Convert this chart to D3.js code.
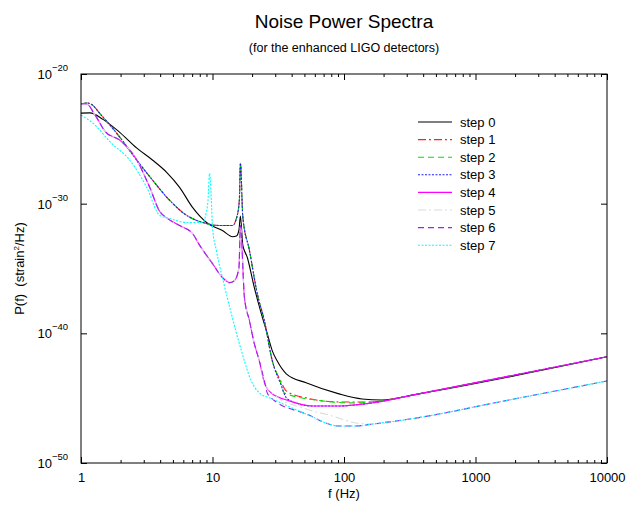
<!DOCTYPE html>
<html><head><meta charset="utf-8">
<script src="https://cdn.jsdelivr.net/npm/d3@7"></script>
<style>body{margin:0;background:#fff}svg{display:block;font-family:"Liberation Sans",Arial,sans-serif}</style>
</head><body>
<svg id="c" width="626" height="506"></svg>
<script>
// Data: each point is [frequency (Hz), log10 P(f)]
const step0 = [[1,-23.02],[1.17,-23.0],[1.47,-23.5],[1.97,-24.5],[2.66,-25.72],[3.51,-26.65],[4.48,-27.58],[5.62,-28.74],[7.05,-30.29],[9.0,-31.45],[11.9,-32.07],[14.2,-32.55],[15.2,-32.5],[15.9,-32.0],[16.3,-30.95],[17.0,-33.2],[18.4,-34.15],[20.8,-36.47],[23.5,-38.48],[26.1,-40.03],[28.5,-41.35],[31,-42.12],[36.4,-43.12],[51.5,-43.82],[91.6,-44.67],[137,-45.06],[194,-45.14],[370,-44.67],[10000,-41.81]];
const step1 = [[1,-22.3],[1.13,-22.24],[1.47,-23.33],[1.97,-24.87],[2.66,-26.65],[3.51,-28.2],[4.72,-29.74],[6.35,-30.9],[8.4,-31.45],[11.3,-31.68],[14.2,-31.68],[15.2,-31.14],[16.0,-29.74],[16.3,-26.88],[17.0,-31.0],[19.1,-33.61],[21.9,-36.94],[24.8,-39.03],[28.5,-42.12],[33,-43.67],[36.4,-44.44],[51.5,-44.98],[91.6,-45.29],[163,-45.29],[250,-45.0],[370,-44.67],[10000,-41.81]];
const step2 = [[1,-22.3],[1.13,-22.24],[1.47,-23.33],[1.97,-24.87],[2.66,-26.65],[3.51,-28.2],[4.72,-29.74],[6.35,-30.9],[8.4,-31.45],[11.3,-31.68],[14.2,-31.68],[15.2,-31.14],[16.0,-29.74],[16.3,-26.88],[17.0,-31.0],[19.1,-33.61],[21.9,-36.94],[24.8,-39.03],[28.5,-42.12],[33,-43.8],[35,-44.59],[68,-45.21],[123,-45.37],[219,-45.12],[370,-44.67],[10000,-41.81]];
const step3 = [[1,-22.3],[1.13,-22.24],[1.47,-23.33],[1.97,-24.87],[2.66,-26.65],[3.51,-28.2],[4.72,-29.74],[6.35,-30.9],[8.4,-31.45],[11.3,-31.68],[14.2,-31.68],[15.2,-31.14],[16.0,-29.74],[16.3,-26.88],[17.0,-31.0],[19.1,-33.61],[21.9,-36.94],[24.8,-39.03],[28.5,-42.12],[33,-43.9],[37,-45.06],[57.2,-45.6],[91.6,-45.6],[163,-45.37],[370,-44.67],[10000,-41.81]];
const step4 = [[1,-22.3],[1.1,-22.3],[1.28,-23.17],[1.54,-24.48],[1.97,-25.1],[2.66,-26.65],[3.33,-28.74],[3.97,-30.6],[4.48,-31.1],[5.62,-31.68],[7.05,-32.3],[7.97,-33.2],[10,-34.62],[11.9,-35.7],[13.5,-36.09],[14.7,-35.93],[15.9,-34.93],[16.3,-31.68],[17.5,-37.25],[19.1,-39.03],[20.8,-40.8],[22.7,-42.12],[24.8,-43.8],[28,-44.6],[38.3,-45.21],[57.2,-45.6],[91.6,-45.6],[163,-45.37],[370,-44.67],[10000,-41.81]];
const step5 = [[1,-22.3],[1.1,-22.3],[1.28,-23.17],[1.54,-24.48],[1.97,-25.1],[2.66,-26.65],[3.33,-28.74],[3.97,-30.6],[4.48,-31.1],[5.62,-31.68],[7.05,-32.3],[7.97,-33.2],[10,-34.62],[11.9,-35.7],[13.5,-36.09],[14.7,-35.93],[15.9,-34.93],[16.3,-31.68],[17.5,-37.25],[19.1,-39.03],[20.8,-40.8],[22.7,-42.12],[24.8,-43.8],[30,-44.8],[51.5,-45.83],[81,-46.37],[123,-46.91],[163,-47.0],[370,-46.5],[1515,-45.29],[10000,-43.67]];
const step6 = [[1,-22.3],[1.1,-22.3],[1.28,-23.17],[1.54,-24.48],[1.97,-25.1],[2.66,-26.65],[3.33,-28.74],[3.97,-30.6],[4.48,-31.1],[5.62,-31.68],[7.05,-32.3],[7.97,-33.2],[10,-34.62],[11.9,-35.7],[13.5,-36.09],[14.7,-35.93],[15.9,-34.93],[16.3,-31.68],[17.5,-37.25],[19.1,-39.03],[20.8,-40.8],[22.7,-42.12],[24.8,-43.67],[26.1,-44.6],[28.5,-45.06],[51.5,-46.22],[91.6,-47.15],[123,-47.15],[163,-47.0],[370,-46.5],[1515,-45.29],[10000,-43.67]];
const step7 = [[1,-23.17],[1.23,-23.79],[1.69,-25.3],[2.35,-26.65],[3.16,-28.74],[3.97,-30.9],[4.72,-31.14],[6.35,-31.45],[8.4,-31.45],[9.2,-29.98],[9.5,-27.66],[9.8,-29.74],[10,-31.83],[10.7,-33.61],[12.3,-36.3],[13.9,-38.48],[16.6,-41.35],[19.7,-43.67],[22.7,-44.59],[28.5,-45.06],[51.5,-46.22],[91.6,-47.15],[123,-47.15],[163,-47.0],[370,-46.5],[1515,-45.29],[10000,-43.67]];

const seriesNames = ["step 0","step 1","step 2","step 3","step 4","step 5","step 6","step 7"];
const seriesData = [step0, step1, step2, step3, step4, step5, step6, step7];
const xTickValues = [1, 10, 100, 1000, 10000];
const xTickLabels = ["1", "10", "100", "1000", "10000"];
const yTickExponents = [-20, -30, -40, -50];
const titleText = "Noise Power Spectra";
const subtitleText = "(for the enhanced LIGO detectors)";

const styles = [
  {color:"#000000", dash:null},
  {color:"#ff2020", dash:"8,3,2,3"},
  {color:"#00e000", dash:"6,4"},
  {color:"#2020ff", dash:"2,1.5"},
  {color:"#ff00ff", dash:null},
  {color:"#dcdcdc", dash:"8,3,2,3"},
  {color:"#a020f0", dash:"6,4"},
  {color:"#00ffff", dash:"2,1.5"}
];

const L = 81, R = 607, T = 74, B = 463;
const svg = d3.select("#c");
const x = d3.scaleLog().domain([1, 10000]).range([L, R]);
const y = d3.scaleLog().domain([1e-50, 1e-20]).range([B, T]);

// title
svg.append("text").attr("x", (L+R)/2).attr("y", 28).attr("text-anchor","middle")
  .attr("font-size", 19).text(titleText);
svg.append("text").attr("x", (L+R)/2).attr("y", 52).attr("text-anchor","middle")
  .attr("font-size", 12.5).text(subtitleText);

// curves
const clip = svg.append("clipPath").attr("id","pc").append("rect")
  .attr("x", L).attr("y", T).attr("width", R-L).attr("height", B-T);
const line = d3.line().x(d => x(d[0])).y(d => y(Math.pow(10, d[1]))).curve(d3.curveMonotoneX);
const g = svg.append("g").attr("clip-path","url(#pc)");
seriesData.forEach((s, i) => {
  g.append("path").attr("d", line(s)).attr("fill","none")
    .attr("stroke", styles[i].color).attr("stroke-width", 1.1)
    .attr("stroke-dasharray", styles[i].dash);
});

// axes (ticks inward, mirrored)
const minorX = [];
for (let d = 1; d < 10000; d *= 10) for (let k = 2; k <= 9; k++) minorX.push(d*k);
const axB = svg.append("g").attr("transform", `translate(0,${B})`)
  .call(d3.axisBottom(x).tickValues(xTickValues).tickSize(-6).tickFormat((d,i) => xTickLabels[i]).tickPadding(10));
const axBm = svg.append("g").attr("transform", `translate(0,${B})`)
  .call(d3.axisBottom(x).tickValues(minorX).tickSize(-3).tickFormat(""));
const axT = svg.append("g").attr("transform", `translate(0,${T})`)
  .call(d3.axisTop(x).tickValues(xTickValues).tickSize(-6).tickFormat(""));
const axTm = svg.append("g").attr("transform", `translate(0,${T})`)
  .call(d3.axisTop(x).tickValues(minorX).tickSize(-3).tickFormat(""));
const axL = svg.append("g").attr("transform", `translate(${L},0)`)
  .call(d3.axisLeft(y).tickValues(yTickExponents.map(e => Math.pow(10, e))).tickSize(-6).tickFormat(""));
const axR = svg.append("g").attr("transform", `translate(${R},0)`)
  .call(d3.axisRight(y).tickValues(yTickExponents.map(e => Math.pow(10, e))).tickSize(-6).tickFormat(""));
[axB, axBm, axT, axTm, axL, axR].forEach(a => {
  a.select(".domain").remove();
  a.selectAll("line").attr("stroke","#000");
  a.selectAll("text").attr("font-size", 13).attr("font-family","Liberation Sans, Arial, sans-serif").attr("fill","#000");
});
svg.append("rect").attr("x", L).attr("y", T).attr("width", R-L).attr("height", B-T)
  .attr("fill","none").attr("stroke","#000").attr("stroke-width",1);

// y tick labels with superscripts
yTickExponents.forEach(e => {
  const t = svg.append("text").attr("x", 68).attr("y", y(Math.pow(10, e)) + 5)
    .attr("text-anchor","end").attr("font-size", 13);
  t.append("tspan").text("10");
  t.append("tspan").attr("dy", -8).attr("font-size", 9.5).text("\u2212" + Math.abs(e));
});

// axis labels
svg.append("text").attr("x", (L+R)/2).attr("y", 498).attr("text-anchor","middle")
  .attr("font-size", 13).text("f (Hz)");
const yl = svg.append("text").attr("transform", `translate(24,${(T+B)/2}) rotate(-90)`)
  .attr("text-anchor","middle").attr("font-size", 13);
yl.append("tspan").text("P(f)  (strain");
yl.append("tspan").attr("dy", -5).attr("font-size", 8).text("2");
yl.append("tspan").attr("dy", 5).text("/Hz)");
yl.attr("xml:space","preserve").style("white-space","pre");

// legend
const lg = svg.append("g");
seriesNames.forEach((n, i) => {
  const yy = 122 + i * 17.6;
  lg.append("line").attr("x1", 418).attr("x2", 452).attr("y1", yy).attr("y2", yy)
    .attr("stroke", styles[i].color).attr("stroke-width", 1.1).attr("stroke-dasharray", styles[i].dash);
  lg.append("text").attr("x", 460).attr("y", yy + 4.5).attr("font-size", 13).text(n);
});
</script>
</body></html>
